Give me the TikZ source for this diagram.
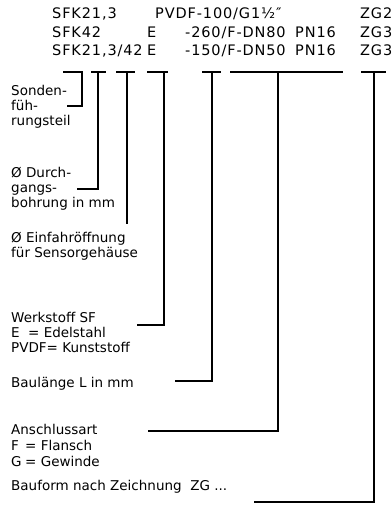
\documentclass[tikz,border=0pt]{standalone}
\usepackage{fontspec}
\setmainfont{DejaVu Sans}
\newfontfamily\codefont{DejaVu Sans}[LetterSpace=6]
\begin{document}
\begin{tikzpicture}[x=1pt,y=-1pt,
  txt/.style={anchor=base west,inner sep=0pt,font=\fontsize{13.5}{15}\selectfont},
  code/.style={anchor=base west,inner sep=0pt,font=\codefont\fontsize{14.5}{18}\selectfont},
  brk/.style={line width=1.7pt,line join=miter}]
\useasboundingbox (0,0) rectangle (391,506);
% top code lines
\node[code] (a1) at (52,19) {SFK21,3};
\node[code] (b1) at (155,19) {PVDF-100/G1½″};
\node[code] (e1) at (360,19) {ZG2};
\node[code] (a2) at (52,37) {SFK42};
\node[code] (m2) at (147,37) {E};
\node[code] (c2) at (185,37) {-260/F-DN80};
\node[code] (d2) at (295,37) {PN16};
\node[code] (e2) at (360,37) {ZG3};
\node[code] (a3) at (52,55) {SFK21,3/42};
\node[code] (m3) at (147,55) {E};
\node[code] (c3) at (185,55) {-150/F-DN50};
\node[code] (d3) at (295,55) {PN16};
\node[code] (e3) at (360,55) {ZG3};
% labels
\node[txt] (l1a) at (11,95) {Sonden-};
\node[txt] (l1b) at (11,110) {füh-};
\node[txt] (l1c) at (11,125) {rungsteil};
\node[txt] (l2a) at (11,177) {Ø Durch-};
\node[txt] (l2b) at (11,192) {gangs-};
\node[txt] (l2c) at (11,207) {bohrung in mm};
\node[txt] (l3a) at (11,242) {Ø Einfahröffnung};
\node[txt] (l3b) at (11,257) {für Sensorgehäuse};
\node[txt] (l4a) at (11,322) {Werkstoff SF};
\node[txt] (l4b) at (11,337) {E};
\node[txt] (l4c) at (28,337) {= Edelstahl};
\node[txt] (l4d) at (11,352) {PVDF= Kunststoff};
\node[txt] (l5) at (11,387) {Baulänge L in mm};
\node[txt] (l6a) at (11,434) {Anschlussart};
\node[txt] (l6b) at (11,450) {F};
\node[txt] (l6c) at (25,450) {= Flansch};
\node[txt] (l6d) at (11,466) {G};
\node[txt] (l6e) at (25,466) {= Gewinde};
\node[txt] (l7) at (11,490) {Bauform nach Zeichnung\ \ ZG ...};
% bracket coordinates
\coordinate (b1l) at (63,72);  \coordinate (b1r) at (82,72);  \coordinate (h1) at (67,106);
\coordinate (b2l) at (91,72);  \coordinate (b2r) at (106,72); \coordinate (v2) at (98,72);  \coordinate (h2) at (77,189);
\coordinate (b3l) at (116,72); \coordinate (b3r) at (135,72); \coordinate (v3) at (127,72); \coordinate (h3) at (127,224);
\coordinate (b4l) at (147,72); \coordinate (b4r) at (168,72); \coordinate (v4) at (164,72); \coordinate (h4) at (137,325);
\coordinate (b5l) at (202,72); \coordinate (b5r) at (221,72); \coordinate (v5) at (212,72); \coordinate (h5) at (175,381);
\coordinate (b6l) at (230,72); \coordinate (b6r) at (343,72); \coordinate (v6) at (278,72); \coordinate (h6) at (148,431);
\coordinate (b7l) at (361,72); \coordinate (b7r) at (386,72); \coordinate (v7) at (374,72); \coordinate (h7) at (254,502);
% brackets
\draw[brk] (b1l) -- (b1r) |- (h1);
\draw[brk] (b2l) -- (b2r); \draw[brk] (v2) |- (h2);
\draw[brk] (b3l) -- (b3r); \draw[brk] (v3) -- (h3);
\draw[brk] (b4l) -- (b4r); \draw[brk] (v4) |- (h4);
\draw[brk] (b5l) -- (b5r); \draw[brk] (v5) |- (h5);
\draw[brk] (b6l) -- (b6r); \draw[brk] (v6) |- (h6);
\draw[brk] (b7l) -- (b7r); \draw[brk] (v7) |- (h7);
\end{tikzpicture}
\end{document}
